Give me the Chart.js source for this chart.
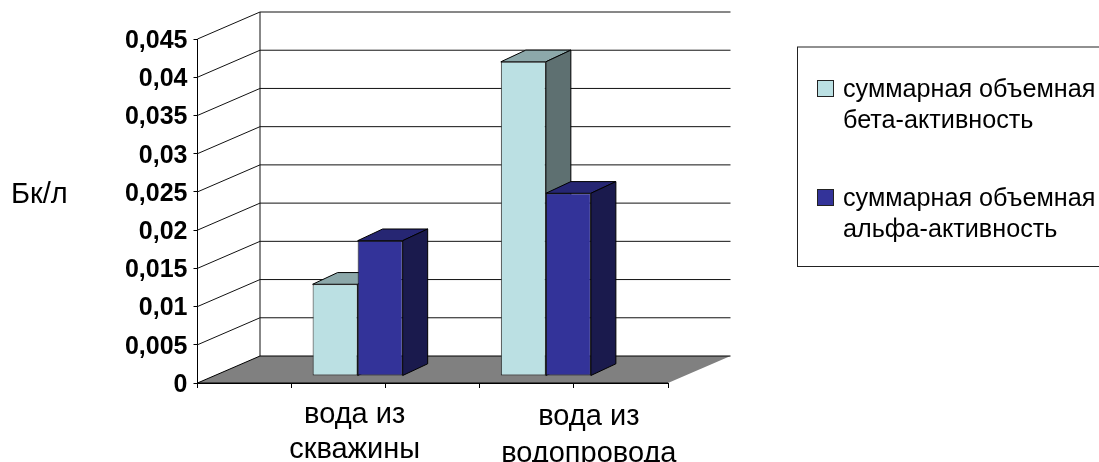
<!DOCTYPE html>
<html lang="ru">
<head>
<meta charset="utf-8">
<title>Бк/л</title>
<script src="https://cdn.jsdelivr.net/npm/chart.js@4"></script>
<style>
    html, body { margin: 0; padding: 0; background: #fff; overflow: hidden; }
    canvas { display: block; }
</style>
</head>
<body>
<canvas id="activityChart" width="1099" height="462"></canvas>
<script>
// Empty slots keep the axis divided into five equal parts
const categories = ['', ['вода из', 'скважины'], '', ['вода из', 'водопровода'], ''];
const betaValues = [null, 0.012, null, 0.0411, null];
const alphaValues = [null, 0.0177, null, 0.0239, null];
const betaLabel = ['суммарная объемная', 'бета-активность'];
const alphaLabel = ['суммарная объемная', 'альфа-активность'];
const axisUnit = 'Бк/л';

const FONT = "'Liberation Sans', Arial, sans-serif";

// Depth of the box the bars stand in, and of the bars themselves
const WALL = { dx: 62.5, dy: -27 };
const BAR_SHIFT = { dx: 19, dy: -7 };
const BAR_DEPTH = { dx: 25, dy: -11.7 };

const faceColors = [
    { top: '#8CA8AA', side: '#5E7071' },
    { top: '#262673', side: '#1A1A4D' }
];

function path(ctx, points, fill, stroke) {
    ctx.beginPath();
    points.forEach((p, i) => (i ? ctx.lineTo(p[0], p[1]) : ctx.moveTo(p[0], p[1])));
    if (fill) {
        ctx.closePath();
        ctx.fillStyle = fill;
        ctx.fill();
    }
    if (stroke) {
        ctx.strokeStyle = stroke;
        ctx.lineWidth = 1;
        ctx.stroke();
    }
}

function drawBarFaces(ctx, meta, colors, values) {
    meta.data.forEach((bar, i) => {
        if (values[i] === null) return;
        const { x, y, width, base } = bar.getProps(['x', 'y', 'width', 'base'], true);
        const left = x - width / 2;
        const right = x + width / 2;
        path(ctx, [
            [left, y],
            [right, y],
            [right + BAR_DEPTH.dx, y + BAR_DEPTH.dy],
            [left + BAR_DEPTH.dx, y + BAR_DEPTH.dy]
        ], colors.top, '#000');
        path(ctx, [
            [right, y],
            [right + BAR_DEPTH.dx, y + BAR_DEPTH.dy],
            [right + BAR_DEPTH.dx, base + BAR_DEPTH.dy],
            [right, base]
        ], colors.side, '#000');
    });
}

const box3d = {
    id: 'box3d',
    beforeDatasetsDraw(chart) {
        const { ctx, chartArea: area, scales } = chart;
        const backLeft = area.left + WALL.dx;
        const backRight = area.right + WALL.dx;

        // Side wall and back wall lines, one per tick
        scales.y.ticks.forEach(tick => {
            const y = scales.y.getPixelForValue(tick.value);
            if (tick.value === 0) return;
            path(ctx, [[area.left, y], [backLeft, y + WALL.dy], [backRight, y + WALL.dy]], null, '#111');
        });
        path(ctx, [[backLeft, area.top + WALL.dy], [backLeft, area.bottom + WALL.dy]], null, '#111');

        // Floor
        path(ctx, [
            [area.left, area.bottom],
            [area.right, area.bottom],
            [backRight, area.bottom + WALL.dy],
            [backLeft, area.bottom + WALL.dy]
        ], '#808080');
        path(ctx, [[area.right, area.bottom], [area.left, area.bottom], [backLeft, area.bottom + WALL.dy], [backRight, area.bottom + WALL.dy]], null, '#000');

        // Left series first so the right one overlaps it, which the default reverse order would not do
        ctx.save();
        ctx.translate(BAR_SHIFT.dx, BAR_SHIFT.dy);
        chart.data.datasets.forEach((dataset, i) => {
            const meta = chart.getDatasetMeta(i);
            drawBarFaces(ctx, meta, faceColors[i], dataset.data);
            meta.controller.draw();
        });
        ctx.restore();
        return false;
    }
};

// Text the axes cannot place themselves, plus the legend box
const annotations = {
    id: 'annotations',
    afterDraw(chart) {
        const { ctx, scales } = chart;
        ctx.save();
        ctx.fillStyle = '#000';
        ctx.textBaseline = 'middle';

        ctx.font = '29px ' + FONT;
        ctx.textAlign = 'left';
        ctx.fillText(axisUnit, 11, 195);

        ctx.textAlign = 'center';
        [
            { index: 1, shift: 16, y: [415, 450] },
            { index: 3, shift: 62, y: [417, 454] }
        ].forEach(item => {
            const x = scales.x.getPixelForValue(item.index) + item.shift;
            categories[item.index].forEach((line, i) => ctx.fillText(line, x, item.y[i]));
        });

        ctx.strokeStyle = '#222';
        ctx.lineWidth = 1;
        ctx.strokeRect(797.5, 47, 320, 219.5);

        ctx.font = '25.2px ' + FONT;
        ctx.textAlign = 'left';
        [
            { lines: betaLabel, color: '#BBE0E3', y: 89 },
            { lines: alphaLabel, color: '#333399', y: 198 }
        ].forEach(item => {
            ctx.fillStyle = item.color;
            ctx.fillRect(817.5, item.y - 8.5, 16, 16);
            ctx.strokeStyle = '#222';
            ctx.strokeRect(817.5, item.y - 8.5, 16, 16);
            ctx.fillStyle = '#000';
            item.lines.forEach((line, i) => ctx.fillText(line, 843, item.y + 1 + i * 31));
        });
        ctx.restore();
    }
};

new Chart(document.getElementById('activityChart'), {
    type: 'bar',
    data: {
        labels: categories,
        datasets: [
            {
                label: betaLabel.join(' '),
                data: betaValues,
                backgroundColor: '#BBE0E3',
                borderColor: '#222',
                borderWidth: 1,
                borderSkipped: false
            },
            {
                label: alphaLabel.join(' '),
                data: alphaValues,
                backgroundColor: '#333399',
                borderColor: '#111',
                borderWidth: 1,
                borderSkipped: false
            }
        ]
    },
    options: {
        responsive: false,
        animation: false,
        barPercentage: 1,
        categoryPercentage: 0.957,
        layout: { padding: { top: 39, right: 431, bottom: 0, left: 0 } },
        plugins: {
            legend: { display: false },
            tooltip: { enabled: false }
        },
        scales: {
            x: {
                afterFit(scale) { scale.height = 79; },
                grid: { offset: true, drawOnChartArea: false, color: '#000', tickLength: 5 },
                border: { color: '#000' },
                ticks: { display: false, autoSkip: false }
            },
            y: {
                min: 0,
                max: 0.045,
                afterFit(scale) { scale.width = 197.5; },
                grid: { drawOnChartArea: false, color: '#000', tickLength: 4 },
                border: { color: '#000' },
                ticks: {
                    stepSize: 0.005,
                    color: '#000',
                    padding: 6,
                    labelOffset: 2,
                    font: { family: FONT, size: 25, weight: 'bold' },
                    callback: value => String(+value.toFixed(3)).replace('.', ',')
                }
            }
        }
    },
    plugins: [box3d, annotations]
});
</script>
</body>
</html>
